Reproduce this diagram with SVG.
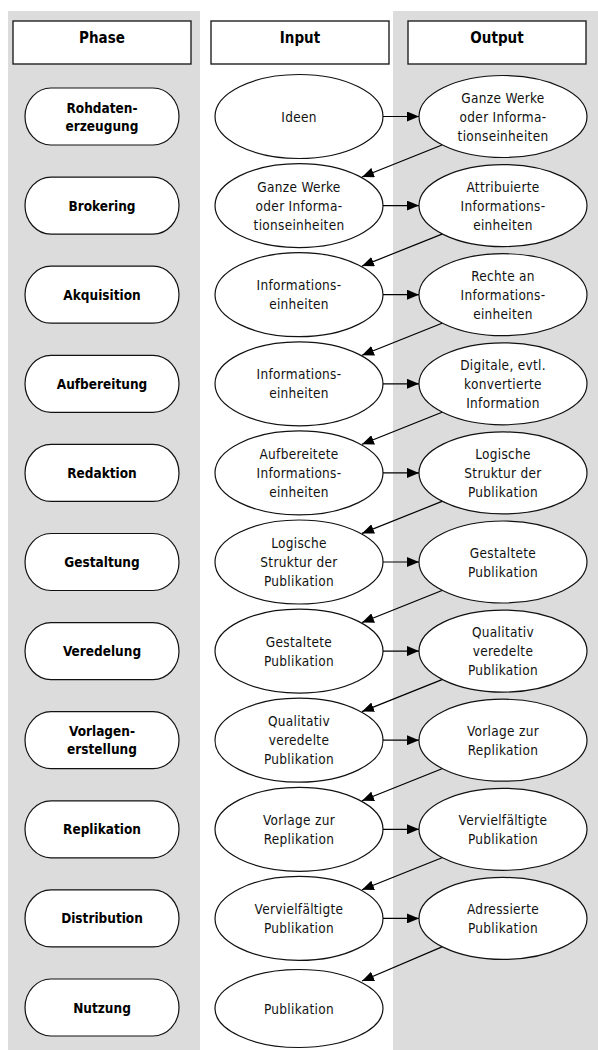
<svg xmlns="http://www.w3.org/2000/svg" width="598" height="1050" viewBox="0 0 598 1050">
  <style>
    .band { fill: #dcdcdc; }
    .head { fill: #ffffff; stroke: #222222; stroke-width: 1.4; }
    .phase { fill: #ffffff; stroke: #111111; stroke-width: 1.2; }
    .io { fill: #ffffff; stroke: #111111; stroke-width: 1.2; }
    .ht { font-family: "DejaVu Sans Condensed", "DejaVu Sans", sans-serif; font-weight: bold; font-size: 15px; text-anchor: middle; fill: #000; }
    .pt { font-family: "DejaVu Sans Condensed", "DejaVu Sans", sans-serif; font-weight: bold; font-size: 13.5px; text-anchor: middle; fill: #000; }
    .t { font-family: "DejaVu Sans Condensed", "DejaVu Sans", sans-serif; font-size: 13.5px; letter-spacing: 0.3px; text-anchor: middle; fill: #111; }
    .edge { stroke: #000; stroke-width: 1.2; fill: none; marker-end: url(#arrow); }
  </style>
  <defs>
    <marker id="arrow" viewBox="0 0 12 10" refX="12" refY="5" markerWidth="12" markerHeight="10" markerUnits="userSpaceOnUse" orient="auto">
      <path d="M0,0 L12,5 L0,10 z" fill="#000"/>
    </marker>
  </defs>

  <!-- column backgrounds -->
  <rect class="band" x="8" y="11" width="192" height="1039"/>
  <rect class="band" x="393" y="11" width="205" height="1039"/>

  <!-- column headers -->
  <g id="head-phase"><rect class="head" x="13" y="21" width="178" height="43"/><text class="ht" x="102" y="43">Phase</text></g>
  <g id="head-input"><rect class="head" x="211" y="21" width="178" height="43"/><text class="ht" x="300" y="43">Input</text></g>
  <g id="head-output"><rect class="head" x="408" y="21" width="178" height="43"/><text class="ht" x="497" y="43">Output</text></g>

  <!-- phases -->
  <g id="phase-0"><rect class="phase" x="25" y="88" width="154" height="57" rx="26" ry="28.5"/><text class="pt" x="102" y="112.5">Rohdaten-</text><text class="pt" x="102" y="130.5">erzeugung</text></g>
  <g id="phase-1"><rect class="phase" x="25" y="177.1" width="154" height="57" rx="26" ry="28.5"/><text class="pt" x="102" y="210.6">Brokering</text></g>
  <g id="phase-2"><rect class="phase" x="25" y="266.2" width="154" height="57" rx="26" ry="28.5"/><text class="pt" x="102" y="299.7">Akquisition</text></g>
  <g id="phase-3"><rect class="phase" x="25" y="355.3" width="154" height="57" rx="26" ry="28.5"/><text class="pt" x="102" y="388.8">Aufbereitung</text></g>
  <g id="phase-4"><rect class="phase" x="25" y="444.4" width="154" height="57" rx="26" ry="28.5"/><text class="pt" x="102" y="477.9">Redaktion</text></g>
  <g id="phase-5"><rect class="phase" x="25" y="533.5" width="154" height="57" rx="26" ry="28.5"/><text class="pt" x="102" y="567">Gestaltung</text></g>
  <g id="phase-6"><rect class="phase" x="25" y="622.6" width="154" height="57" rx="26" ry="28.5"/><text class="pt" x="102" y="656.1">Veredelung</text></g>
  <g id="phase-7"><rect class="phase" x="25" y="711.7" width="154" height="57" rx="26" ry="28.5"/><text class="pt" x="102" y="736.2">Vorlagen-</text><text class="pt" x="102" y="754.2">erstellung</text></g>
  <g id="phase-8"><rect class="phase" x="25" y="800.8" width="154" height="57" rx="26" ry="28.5"/><text class="pt" x="102" y="834.3">Replikation</text></g>
  <g id="phase-9"><rect class="phase" x="25" y="889.9" width="154" height="57" rx="26" ry="28.5"/><text class="pt" x="102" y="923.4">Distribution</text></g>
  <g id="phase-10"><rect class="phase" x="25" y="979" width="154" height="57" rx="26" ry="28.5"/><text class="pt" x="102" y="1012.5">Nutzung</text></g>

  <!-- inputs -->
  <g id="in-0"><ellipse class="io" cx="299" cy="116.5" rx="84" ry="42"/><text class="t" x="299" y="121.5">Ideen</text></g>
  <g id="in-1"><ellipse class="io" cx="299" cy="205.6" rx="84" ry="42"/><text class="t" x="299" y="191.6">Ganze Werke</text><text class="t" x="299" y="210.6">oder Informa-</text><text class="t" x="299" y="229.6">tionseinheiten</text></g>
  <g id="in-2"><ellipse class="io" cx="299" cy="294.7" rx="84" ry="42"/><text class="t" x="299" y="290.2">Informations-</text><text class="t" x="299" y="309.2">einheiten</text></g>
  <g id="in-3"><ellipse class="io" cx="299" cy="383.8" rx="84" ry="42"/><text class="t" x="299" y="379.3">Informations-</text><text class="t" x="299" y="398.3">einheiten</text></g>
  <g id="in-4"><ellipse class="io" cx="299" cy="472.9" rx="84" ry="42"/><text class="t" x="299" y="458.9">Aufbereitete</text><text class="t" x="299" y="477.9">Informations-</text><text class="t" x="299" y="496.9">einheiten</text></g>
  <g id="in-5"><ellipse class="io" cx="299" cy="562" rx="84" ry="42"/><text class="t" x="299" y="548">Logische</text><text class="t" x="299" y="567">Struktur der</text><text class="t" x="299" y="586">Publikation</text></g>
  <g id="in-6"><ellipse class="io" cx="299" cy="651.1" rx="84" ry="42"/><text class="t" x="299" y="646.6">Gestaltete</text><text class="t" x="299" y="665.6">Publikation</text></g>
  <g id="in-7"><ellipse class="io" cx="299" cy="740.2" rx="84" ry="42"/><text class="t" x="299" y="726.2">Qualitativ</text><text class="t" x="299" y="745.2">veredelte</text><text class="t" x="299" y="764.2">Publikation</text></g>
  <g id="in-8"><ellipse class="io" cx="299" cy="829.3" rx="84" ry="42"/><text class="t" x="299" y="824.8">Vorlage zur</text><text class="t" x="299" y="843.8">Replikation</text></g>
  <g id="in-9"><ellipse class="io" cx="299" cy="918.4" rx="84" ry="42"/><text class="t" x="299" y="913.9">Vervielfältigte</text><text class="t" x="299" y="932.9">Publikation</text></g>
  <g id="in-10"><ellipse class="io" cx="299" cy="1008.5" rx="84" ry="39"/><text class="t" x="299" y="1013.5">Publikation</text></g>

  <!-- outputs -->
  <g id="out-0"><ellipse class="io" cx="503" cy="116.5" rx="84" ry="41"/><text class="t" x="503" y="102.5">Ganze Werke</text><text class="t" x="503" y="121.5">oder Informa-</text><text class="t" x="503" y="140.5">tionseinheiten</text></g>
  <g id="out-1"><ellipse class="io" cx="503" cy="205.6" rx="84" ry="41"/><text class="t" x="503" y="191.6">Attribuierte</text><text class="t" x="503" y="210.6">Informations-</text><text class="t" x="503" y="229.6">einheiten</text></g>
  <g id="out-2"><ellipse class="io" cx="503" cy="294.7" rx="84" ry="41"/><text class="t" x="503" y="280.7">Rechte an</text><text class="t" x="503" y="299.7">Informations-</text><text class="t" x="503" y="318.7">einheiten</text></g>
  <g id="out-3"><ellipse class="io" cx="503" cy="383.8" rx="84" ry="41"/><text class="t" x="503" y="369.8">Digitale, evtl.</text><text class="t" x="503" y="388.8">konvertierte</text><text class="t" x="503" y="407.8">Information</text></g>
  <g id="out-4"><ellipse class="io" cx="503" cy="472.9" rx="84" ry="41"/><text class="t" x="503" y="458.9">Logische</text><text class="t" x="503" y="477.9">Struktur der</text><text class="t" x="503" y="496.9">Publikation</text></g>
  <g id="out-5"><ellipse class="io" cx="503" cy="562" rx="84" ry="41"/><text class="t" x="503" y="557.5">Gestaltete</text><text class="t" x="503" y="576.5">Publikation</text></g>
  <g id="out-6"><ellipse class="io" cx="503" cy="651.1" rx="84" ry="41"/><text class="t" x="503" y="637.1">Qualitativ</text><text class="t" x="503" y="656.1">veredelte</text><text class="t" x="503" y="675.1">Publikation</text></g>
  <g id="out-7"><ellipse class="io" cx="503" cy="740.2" rx="84" ry="41"/><text class="t" x="503" y="735.7">Vorlage zur</text><text class="t" x="503" y="754.7">Replikation</text></g>
  <g id="out-8"><ellipse class="io" cx="503" cy="829.3" rx="84" ry="41"/><text class="t" x="503" y="824.8">Vervielfältigte</text><text class="t" x="503" y="843.8">Publikation</text></g>
  <g id="out-9"><ellipse class="io" cx="503" cy="918.4" rx="84" ry="41"/><text class="t" x="503" y="913.9">Adressierte</text><text class="t" x="503" y="932.9">Publikation</text></g>

  <!-- connectors: input to output, output to next input -->
  <g id="connectors">
    <line class="edge" x1="383" y1="116.5" x2="419" y2="116.5"/>
    <line class="edge" x1="383" y1="205.6" x2="419" y2="205.6"/>
    <line class="edge" x1="383" y1="294.7" x2="419" y2="294.7"/>
    <line class="edge" x1="383" y1="383.8" x2="419" y2="383.8"/>
    <line class="edge" x1="383" y1="472.9" x2="419" y2="472.9"/>
    <line class="edge" x1="383" y1="562" x2="419" y2="562"/>
    <line class="edge" x1="383" y1="651.1" x2="419" y2="651.1"/>
    <line class="edge" x1="383" y1="740.2" x2="419" y2="740.2"/>
    <line class="edge" x1="383" y1="829.3" x2="419" y2="829.3"/>
    <line class="edge" x1="383" y1="918.4" x2="419" y2="918.4"/>

    <line class="edge" x1="442" y1="145" x2="362" y2="177"/>
    <line class="edge" x1="442" y1="234.1" x2="362" y2="266.1"/>
    <line class="edge" x1="442" y1="323.2" x2="362" y2="355.2"/>
    <line class="edge" x1="442" y1="412.3" x2="362" y2="444.3"/>
    <line class="edge" x1="442" y1="501.4" x2="362" y2="533.4"/>
    <line class="edge" x1="442" y1="590.5" x2="362" y2="622.5"/>
    <line class="edge" x1="442" y1="679.6" x2="362" y2="711.6"/>
    <line class="edge" x1="442" y1="768.7" x2="362" y2="800.7"/>
    <line class="edge" x1="442" y1="857.8" x2="362" y2="889.8"/>
    <line class="edge" x1="442" y1="946.9" x2="362" y2="981"/>
  </g>
</svg>
